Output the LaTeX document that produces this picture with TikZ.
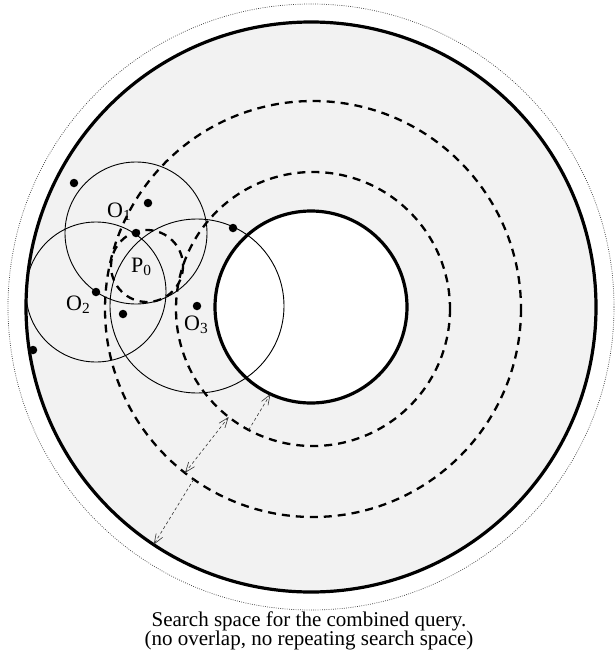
\documentclass[tikz,border=0pt]{standalone}
\usepackage{fontspec}
\setmainfont{Liberation Serif}
\usetikzlibrary{arrows.meta}

\begin{document}
\begin{tikzpicture}[x=1pt, y=-1pt,
    boundary/.style={line width=3.2pt},
    band/.style={line width=2.3pt, dash pattern=on 8pt off 6pt},
    reach/.style={line width=0.9pt},
    obj/.style={circle, fill, inner sep=0pt, minimum size=8.5pt},
    lbl/.style={inner sep=0pt, anchor=base west, font=\fontsize{22}{26}\selectfont},
    note/.style={inner sep=0pt, anchor=base, font=\fontsize{21}{24}\selectfont},
    gap/.style={line width=0.6pt, dash pattern=on 3pt off 2.5pt, black!80},
    >={Straight Barb[length=10pt,width=7.5pt]}]
  \useasboundingbox (0,0) rectangle (616,662);
  \coordinate (C) at (311,307);
  \coordinate (D) at (313,309);
  % search space: outer limit, annulus and the two bands
  \draw[line width=0.7pt, dash pattern=on 0.8pt off 1.4pt, black!75] (C) circle (303);
  \fill[black!5, even odd rule] (C) circle (285) (C) circle (96);
  \draw[boundary] (C) circle (285);
  \draw[boundary] (C) circle (96);
  \foreach \r in {137, 208} \draw[band] (D) circle (\r);
  \draw[band] (147,266) circle (36);
  % query objects and their ranges
  \node[obj] (o1) at (136,233) {};
  \node[obj] (o2) at (96,292) {};
  \node[obj] (o3) at (197,306) {};
  \draw[reach] (o1) circle (71);
  \draw[reach] (o2) circle (70);
  \draw[reach] (o3) circle (87);
  \foreach \x/\y [count=\i] in {74/183, 148/203, 123/314, 233/228, 33/350}
    \node[obj] (p\i) at (\x,\y) {};
  \node[lbl] (lo1) at (107,217.5) {O\textsubscript{1}};
  \node[lbl] (lo2) at (66,310) {O\textsubscript{2}};
  \node[lbl] (lo3) at (184,330.5) {O\textsubscript{3}};
  \node[lbl] (lp) at (131,272.5) {P\textsubscript{0}};
  % widths of the bands
  \coordinate (a1) at ({313+137*cos(118)},{309+137*sin(118)});
  \coordinate (a2) at ({311+96*cos(115)},{307+96*sin(115)});
  \coordinate (b1) at ({313+137*cos(128)},{309+137*sin(128)});
  \coordinate (b2) at ({313+208*cos(128)},{309+208*sin(128)});
  \coordinate (c1) at ({313+208*cos(125)},{309+208*sin(125)});
  \coordinate (c2) at ({311+285*cos(123.5)},{307+285*sin(123.5)});
  \draw[gap, ->] (a1) -- (a2);
  \draw[gap, <->] (b1) -- (b2);
  \draw[gap, ->] (c1) -- (c2);
  \node[note] (cap1) at (309,626.5) {Search space for the combined query.};
  \node[note] (cap2) at (309,645.5) {(no overlap, no repeating search space)};
\end{tikzpicture}
\end{document}
